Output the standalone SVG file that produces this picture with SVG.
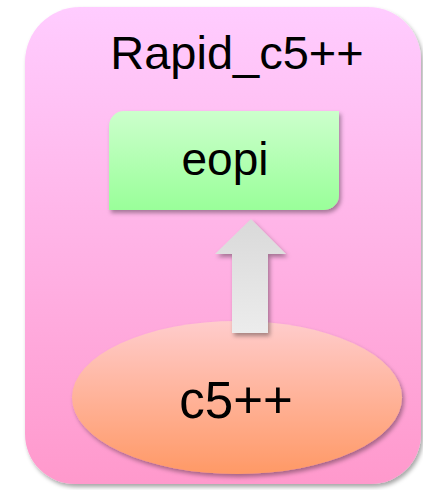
<svg xmlns="http://www.w3.org/2000/svg" width="423" height="490" viewBox="0 0 423 490">
<defs>
<linearGradient id="gOuter" x1="0" y1="0" x2="0" y2="1"><stop offset="0" stop-color="#ffccff"/><stop offset="1" stop-color="#ff99cc"/></linearGradient>
<linearGradient id="gGreen" x1="0" y1="0" x2="0" y2="1"><stop offset="0" stop-color="#ccffcc"/><stop offset="1" stop-color="#99ff99"/></linearGradient>
<linearGradient id="gOrange" x1="0" y1="0" x2="0" y2="1"><stop offset="0" stop-color="#ffcccc"/><stop offset="1" stop-color="#ff9966"/></linearGradient>
<linearGradient id="gArrow" x1="0" y1="0" x2="0" y2="1"><stop offset="0" stop-color="#d9d9d9"/><stop offset="1" stop-color="#ececec"/></linearGradient>
<filter id="sh" x="-10%" y="-10%" width="125%" height="125%"><feDropShadow dx="2" dy="3" stdDeviation="2" flood-color="#000" flood-opacity="0.35"/></filter>
</defs>
<style>
text{font-family:"Liberation Sans",Arial,sans-serif;fill:#000;text-anchor:middle}
</style>
<g id="rapid">
<path d="M80,7 H368 A53,53 0 0 1 421,60 V434 A50,50 0 0 1 371,484 H75 A50,50 0 0 1 25,434 V62 A55,55 0 0 1 80,7 Z" fill="url(#gOuter)" filter="url(#sh)"/>
<text x="237" y="69" font-size="47">Rapid_c5++</text>
</g>
<g id="eopi">
<path d="M124,111 H339 V195 A15,15 0 0 1 324,210 H109 V126 A15,15 0 0 1 124,111 Z" fill="url(#gGreen)" filter="url(#sh)"/>
<text x="225" y="175" font-size="46">eopi</text>
</g>
<g id="c5pp">
<ellipse cx="237" cy="397.5" rx="165" ry="76.5" fill="url(#gOrange)" filter="url(#sh)"/>
<text x="236" y="418" font-size="51">c5++</text>
</g>
<g id="connectors">
<path d="M251,219 L286,254 H268 V333 H232 V254 H215 Z" fill="url(#gArrow)" filter="url(#sh)"/>
</g>
</svg>
